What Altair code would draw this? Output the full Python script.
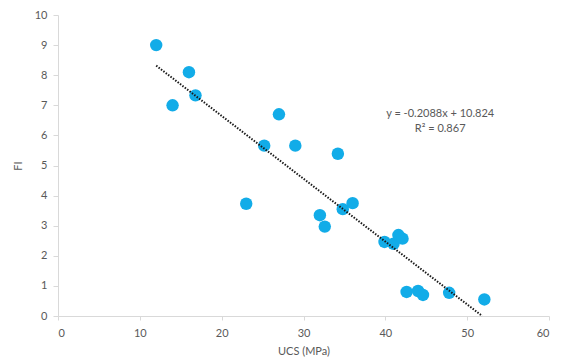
import altair as alt
import pandas as pd

ucs = [12.0, 14.0, 16.0, 16.8, 23.0, 25.2, 27.0, 29.0, 32.0, 32.6, 34.2, 34.8, 36.0,
       39.9, 41.0, 41.6, 42.1, 42.6, 44.0, 44.6, 47.8, 52.1]
fi = [9.0, 7.0, 8.1, 7.33, 3.73, 5.66, 6.7, 5.66, 3.35, 2.97, 5.39, 3.55, 3.75,
      2.46, 2.4, 2.69, 2.57, 0.8, 0.83, 0.7, 0.77, 0.55]

slope = -0.2088
intercept = 10.824
trend_x = [12.0, 51.84]
trend_y = [slope * v + intercept for v in trend_x]

eq_lines = ["y = -0.2088x + 10.824", "R² = 0.867"]
eq_x = [46.7, 46.7]
eq_y = [6.7, 6.2]

x_ticks = [0, 10, 20, 30, 40, 50, 60]
y_ticks = [0, 1, 2, 3, 4, 5, 6, 7, 8, 9, 10]

pts = pd.DataFrame({"UCS": ucs, "FI": fi})
trend = pd.DataFrame({"UCS": trend_x, "FI": trend_y})
eq = pd.DataFrame({"UCS": eq_x, "FI": eq_y, "label": eq_lines})

font = "Lato"
grey = "#595959"

xscale = alt.Scale(domain=[0, 60], nice=False)
yscale = alt.Scale(domain=[0, 10], nice=False)

xaxis = alt.Axis(values=x_ticks, grid=False, domainColor="#d9d9d9", tickColor="#d9d9d9",
                 tickSize=4, labelColor=grey, labelFont=font, labelFontSize=11,
                 labelPadding=7, labelOverlap=False,
                 title="UCS (MPa)", titleFont=font, titleFontSize=11,
                 titleFontWeight="normal", titleColor=grey, titlePadding=7)
yaxis = alt.Axis(values=y_ticks, grid=False, domainColor="#d9d9d9", tickColor="#d9d9d9",
                 tickSize=5, labelColor=grey, labelFont=font, labelFontSize=11,
                 labelPadding=6, labelOverlap=False,
                 title="FI", titleFont=font, titleFontSize=11,
                 titleFontWeight="normal", titleColor=grey, titlePadding=11)

points = alt.Chart(pts).mark_point(shape="circle", filled=True, size=155, opacity=1,
                                   color="#12ACE8").encode(
    x=alt.X("UCS:Q", scale=xscale, axis=xaxis),
    y=alt.Y("FI:Q", scale=yscale, axis=yaxis),
)

line = alt.Chart(trend).mark_line(color="#1a1a1a", strokeWidth=2, strokeDash=[1.5, 1.5]).encode(
    x=alt.X("UCS:Q", scale=xscale, axis=xaxis),
    y=alt.Y("FI:Q", scale=yscale, axis=yaxis),
)

text = alt.Chart(eq).mark_text(font=font, fontSize=11, color=grey, align="center").encode(
    x=alt.X("UCS:Q", scale=xscale, axis=xaxis),
    y=alt.Y("FI:Q", scale=yscale, axis=yaxis),
    text="label:N",
)

chart = alt.layer(points, line, text).properties(
    width=491, height=301,
    autosize=alt.AutoSizeParams(type="none"),
    padding={"left": 50, "top": 7, "right": 8, "bottom": 42},
).configure_view(stroke=None)

chart.save("out.html", embed_options={"renderer": "svg", "actions": False})
